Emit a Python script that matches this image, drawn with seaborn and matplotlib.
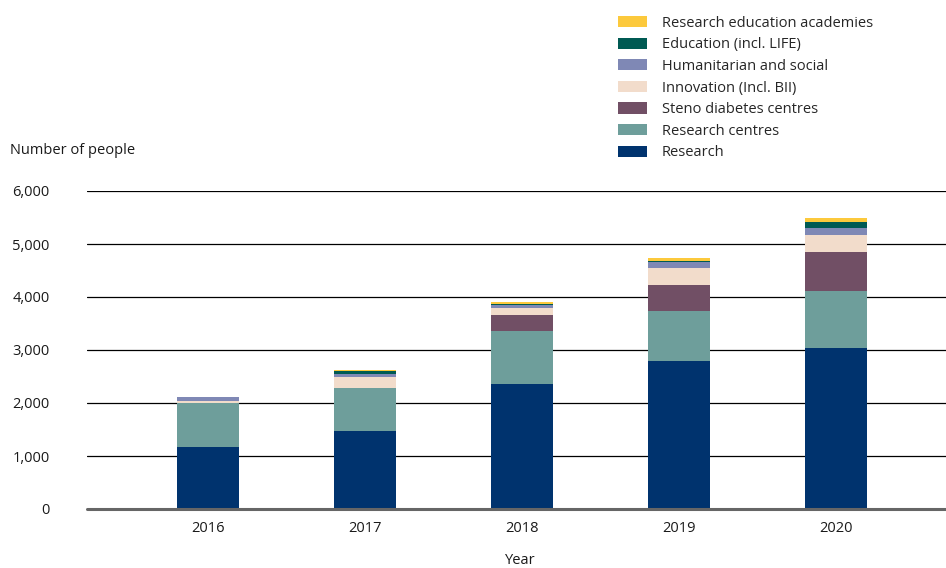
import numpy as np
import pandas as pd
import matplotlib.pyplot as plt
import seaborn as sns
from matplotlib.patches import Patch

years = ['2016', '2017', '2018', '2019', '2020']
research = [1170, 1477, 2358, 2798, 3044]
research_centres = [824, 812, 1000, 938, 1069]
steno = [0, 0, 302, 490, 742]
innovation = [50, 196, 132, 321, 315]
humanitarian = [65, 62, 57, 119, 126]
education = [0, 57, 20, 13, 125]
academies = [0, 15, 42, 57, 70]

series = ['Research', 'Research centres', 'Steno diabetes centres', 'Innovation (Incl. BII)',
          'Humanitarian and social', 'Education (incl. LIFE)', 'Research education academies']
colors = ['#00336e', '#6e9e9b', '#714f65', '#f2dccb', '#7f88b5', '#005a53', '#fcc93c']

df = pd.DataFrame({'Year': years, 'Research': research, 'Research centres': research_centres,
                   'Steno diabetes centres': steno, 'Innovation (Incl. BII)': innovation,
                   'Humanitarian and social': humanitarian, 'Education (incl. LIFE)': education,
                   'Research education academies': academies})
cum = df[series].cumsum(axis=1)
cum['Year'] = df['Year']

sns.set_style('white')
plt.rcParams['font.family'] = ['Open Sans', 'DejaVu Sans']

fig = plt.figure(figsize=(9.46, 5.68), dpi=100)
ax = fig.add_axes([87/946, 1-509/568, 859/946, 318/568])

# draw cumulative totals from the top layer down so each layer shows
for s, c in reversed(list(zip(series, colors))):
    sns.barplot(data=cum, x='Year', y=s, color=c, width=0.395, ax=ax,
                edgecolor=c, linewidth=0, saturation=1)

ax.set_xlim(-0.77, 4.70)
ax.set_ylim(0, 6000)
ax.set_yticks([0, 1000, 2000, 3000, 4000, 5000, 6000])
ax.set_yticklabels(['0', '1,000', '2,000', '3,000', '4,000', '5,000', '6,000'])
for v in [1000, 2000, 3000, 4000, 5000, 6000]:
    ax.axhline(v, color='black', lw=0.9, zorder=0.5)
ax.axhline(0, color='#666666', lw=2.2, zorder=3, clip_on=False)
for sp in ax.spines.values():
    sp.set_visible(False)
ax.tick_params(axis='both', length=0, labelsize=10.5, colors='#1a1a1a')
ax.tick_params(axis='y', pad=27)
ax.tick_params(axis='x', pad=9)
ax.set_xlabel('')
ax.set_ylabel('')

fig.text(10/946, 1-151/568, 'Number of people', fontsize=10.5, va='center', ha='left', color='#1a1a1a')
fig.text(520/946, 1-561/568, 'Year', fontsize=10.5, va='center', ha='center', color='#1a1a1a')

handles = [Patch(facecolor=c, edgecolor='none') for c in colors][::-1]
fig.legend(handles, series[::-1], loc='upper left', bbox_to_anchor=(612/946, 1-10/568),
           frameon=False, fontsize=10.5, handlelength=2.0, handleheight=0.8,
           handletextpad=1.0, labelspacing=0.45, borderaxespad=0)

fig.savefig('out.png', dpi=100)
